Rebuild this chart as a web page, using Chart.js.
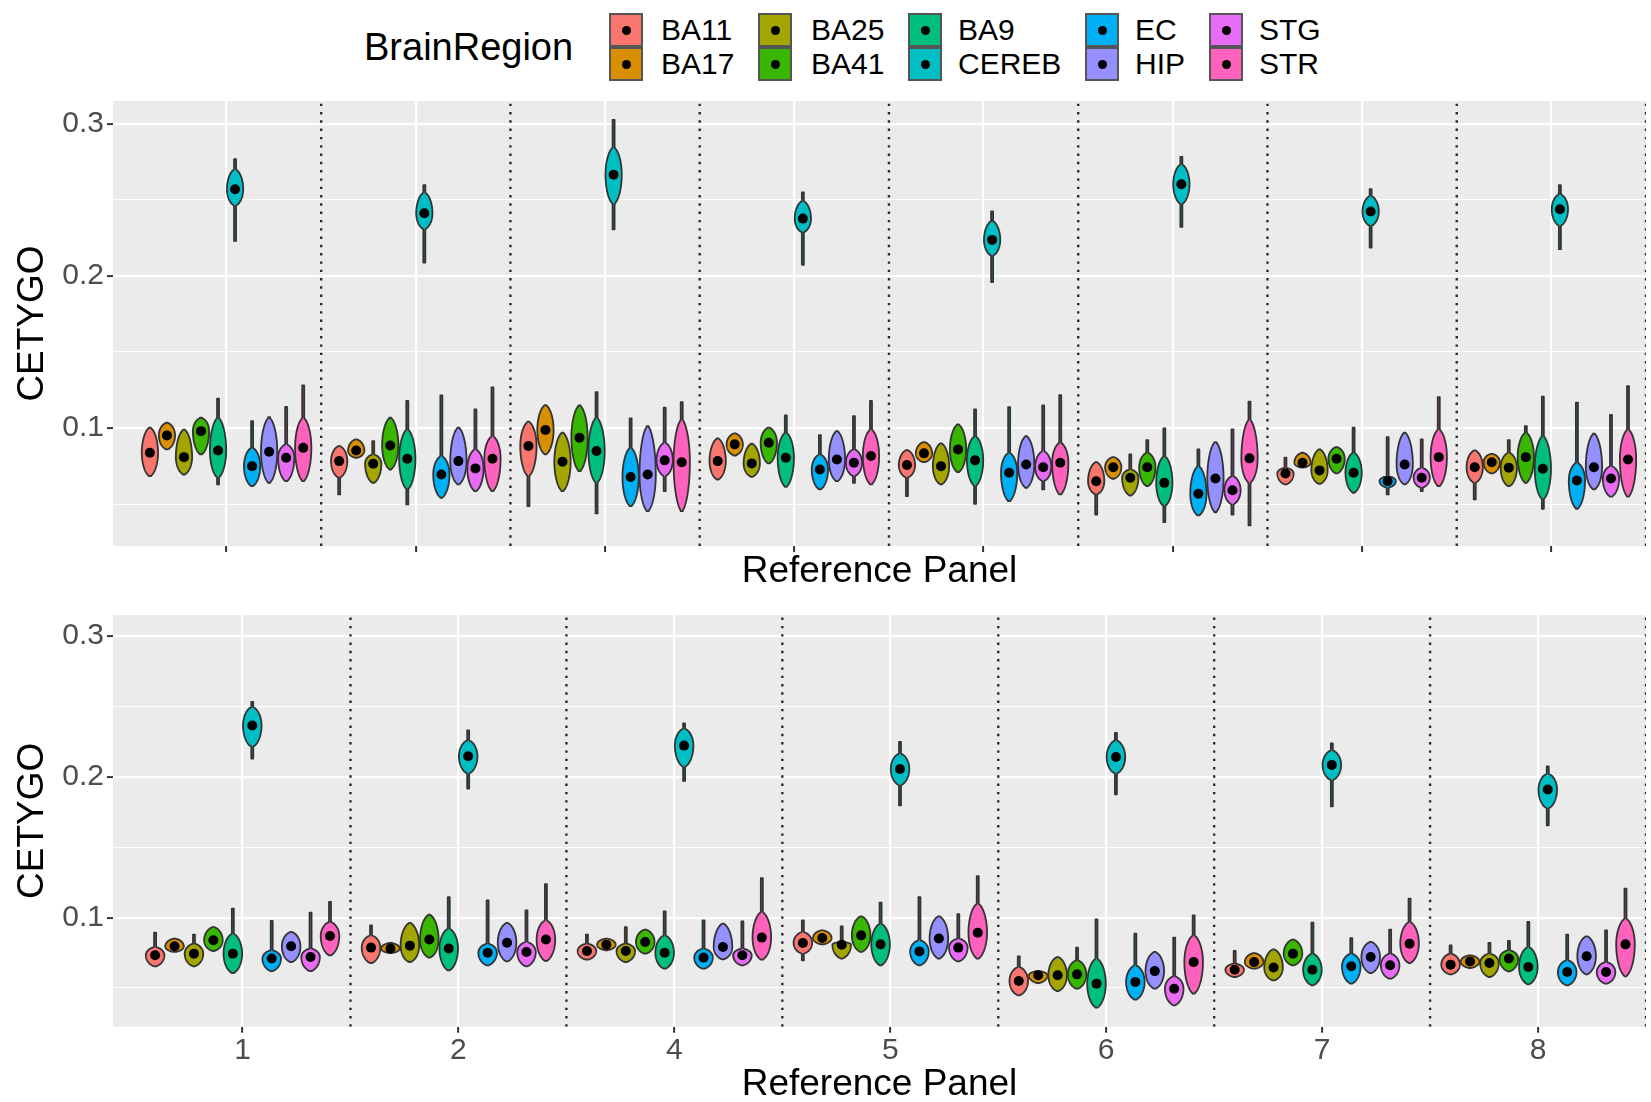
<!DOCTYPE html>
<html>
<head>
<meta charset="utf-8">
<script src="https://cdn.jsdelivr.net/npm/chart.js@4.4.0/dist/chart.umd.min.js"></script>
<style>
  body { margin: 0; width: 1651px; height: 1102px; overflow: hidden; background: #fff;
         font-family: "Liberation Sans", Arial, sans-serif; position: relative; }
  canvas { position: absolute; left: 0; }
  #topChart { top: 90px; }
  #bottomChart { top: 590px; }
  .lg-title { position: absolute; left: 364px; top: 28px; font-size: 38px; line-height: 38px; color: #000; }
  .key { position: absolute; width: 34px; height: 34px; box-sizing: border-box; border: 2px solid #555; }
  .key::after { content: ''; position: absolute; left: 50%; top: 50%; width: 9px; height: 9px;
                margin: -4.5px 0 0 -4.5px; border-radius: 50%; background: #000; }
  .lab { position: absolute; font-size: 30px; line-height: 34px; color: #000; }
</style>
</head>
<body>
<div class="lg-title">BrainRegion</div>
<div id="legend"></div>
<canvas id="topChart" width="1651" height="500"></canvas>
<canvas id="bottomChart" width="1651" height="513"></canvas>
<script>
const regions = ['BA11', 'BA17', 'BA25', 'BA41', 'BA9', 'CEREB', 'EC', 'HIP', 'STG', 'STR'];
const colors = ['#F8766D', '#D89000', '#A3A500', '#39B600', '#00BF7D', '#00BFC4', '#00B0F6', '#9590FF', '#E76BF3', '#FF62BC'];
const topLabels = ['', '', '', '', '', '', '', ''];
const bottomLabels = ['1', '2', '4', '5', '6', '7', '8'];

// top panel: rows = regions, columns = reference panels
const topLo = [
  [.0684, .0564, .0487, .0662, .0553, .0432, .0630, .0531],
  [.0860, .0805, .0827, .0820, .0776, .0667, .0740, .0702],
  [.0695, .0640, .0586, .0680, .0630, .0557, .0634, .0618],
  [.0827, .0728, .0717, .0768, .0710, .0618, .0702, .0640],
  [.0630, .0498, .0439, .0614, .0502, .0382, .0575, .0470],
  [.2230, .2088, .2307, .2073, .1960, .2322, .2187, .2176],
  [.0618, .0542, .0487, .0597, .0520, .0426, .0564, .0470],
  [.0640, .0630, .0454, .0651, .0608, .0447, .0630, .0597],
  [.0651, .0586, .0586, .0640, .0597, .0432, .0586, .0549],
  [.0651, .0586, .0454, .0630, .0564, .0360, .0618, .0549]
];
const topBodyLo = [
  [.0684, .0674, .0684, .0662, .0674, .0564, .0630, .0640],
  [.0860, .0805, .0827, .0820, .0776, .0667, .0740, .0702],
  [.0695, .0640, .0586, .0680, .0630, .0557, .0634, .0618],
  [.0827, .0728, .0717, .0768, .0710, .0618, .0702, .0640],
  [.0674, .0597, .0640, .0614, .0619, .0487, .0575, .0531],
  [.2461, .2307, .2472, .2286, .2132, .2472, .2329, .2329],
  [.0618, .0542, .0487, .0597, .0520, .0426, .0608, .0470],
  [.0640, .0630, .0454, .0651, .0608, .0447, .0630, .0597],
  [.0651, .0586, .0684, .0684, .0651, .0498, .0608, .0549],
  [.0651, .0586, .0454, .0630, .0564, .0640, .0618, .0549]
];
const topMed = [
  [.0838, .0783, .0882, .0783, .0757, .0651, .0702, .0743],
  [.0952, .0853, .0987, .0893, .0834, .0743, .0772, .0776],
  [.0809, .0766, .0779, .0768, .0750, .0674, .0722, .0740],
  [.0980, .0886, .0937, .0904, .0860, .0743, .0799, .0809],
  [.0853, .0799, .0849, .0805, .0788, .0640, .0707, .0733],
  [.2570, .2412, .2665, .2377, .2237, .2603, .2424, .2439],
  [.0750, .0695, .0678, .0728, .0707, .0568, .0651, .0656],
  [.0845, .0783, .0695, .0794, .0761, .0669, .0761, .0743],
  [.0805, .0735, .0788, .0772, .0743, .0592, .0674, .0669],
  [.0870, .0799, .0776, .0816, .0772, .0801, .0809, .0794]
];
const topBodyHi = [
  [.1003, .0882, .1042, .0932, .0855, .0776, .0739, .0853],
  [.1035, .0926, .1151, .0965, .0908, .0809, .0838, .0831],
  [.0990, .0827, .0970, .0897, .0900, .0728, .0860, .0838],
  [.1068, .1068, .1149, .1003, .1024, .0838, .0875, .0970],
  [.1068, .0991, .1068, .0970, .0947, .0816, .0838, .0947],
  [.2702, .2549, .2845, .2493, .2362, .2734, .2526, .2538],
  [.0871, .0816, .0871, .0827, .0838, .0750, .0684, .0772],
  [.1068, .1003, .1013, .0980, .0947, .0908, .0970, .0963],
  [.0893, .0860, .0904, .0860, .0849, .0684, .0739, .0750],
  [.1068, .0947, .1057, .0991, .0904, .1057, .0991, .0991]
];
const topHi = [
  [.1003, .0882, .1042, .0932, .0855, .0776, .0805, .0853],
  [.1035, .0926, .1151, .0965, .0908, .0809, .0838, .0831],
  [.0990, .0914, .0970, .0897, .0900, .0827, .0860, .0921],
  [.1068, .1068, .1149, .1003, .1024, .0921, .0875, .1013],
  [.1193, .1178, .1237, .1083, .1123, .0998, .1003, .1206],
  [.2768, .2597, .3026, .2549, .2424, .2783, .2570, .2597],
  [.1046, .1215, .1064, .0954, .1138, .0860, .0941, .1167],
  [.1072, .1003, .1013, .0980, .0947, .0908, .0970, .0963],
  [.1140, .1123, .1134, .1079, .1149, .0992, .0926, .1086],
  [.1280, .1268, .1171, .1178, .1217, .1174, .1204, .1276]
];

// bottom panel
const botLo = [
  [.0654, .0677, .0701, .0697, .0448, .0578, .0597],
  [.0756, .0748, .0768, .0810, .0535, .0637, .0642],
  [.0654, .0684, .0684, .0709, .0478, .0554, .0578],
  [.0763, .0716, .0744, .0756, .0495, .0661, .0618],
  [.0606, .0625, .0637, .0661, .0360, .0519, .0526],
  [.2130, .1917, .1971, .1798, .1876, .1791, .1656],
  [.0620, .0661, .0637, .0661, .0417, .0531, .0519],
  [.0684, .0689, .0704, .0709, .0495, .0606, .0597],
  [.0620, .0654, .0661, .0689, .0377, .0566, .0531],
  [.0732, .0692, .0701, .0709, .0460, .0677, .0583]
];
const botBodyLo = [
  [.0654, .0677, .0701, .0744, .0448, .0578, .0597],
  [.0756, .0748, .0768, .0810, .0535, .0637, .0642],
  [.0654, .0684, .0684, .0709, .0478, .0554, .0578],
  [.0763, .0716, .0744, .0756, .0495, .0661, .0618],
  [.0606, .0625, .0637, .0661, .0360, .0519, .0526],
  [.2213, .2023, .2070, .1940, .2023, .1976, .1775],
  [.0620, .0661, .0637, .0661, .0417, .0531, .0519],
  [.0684, .0689, .0704, .0709, .0495, .0606, .0597],
  [.0620, .0654, .0661, .0689, .0377, .0566, .0531],
  [.0732, .0692, .0701, .0709, .0460, .0677, .0583]
];
const botMed = [
  [.0732, .0787, .0763, .0820, .0550, .0630, .0666],
  [.0796, .0780, .0808, .0855, .0590, .0684, .0689],
  [.0744, .0801, .0763, .0808, .0590, .0645, .0677],
  [.0839, .0844, .0827, .0874, .0597, .0744, .0709],
  [.0744, .0780, .0751, .0810, .0531, .0630, .0649],
  [.2365, .2146, .2222, .2056, .2141, .2085, .1910],
  [.0709, .0751, .0716, .0760, .0543, .0654, .0613],
  [.0796, .0822, .0791, .0851, .0620, .0720, .0725],
  [.0720, .0756, .0732, .0787, .0495, .0661, .0613],
  [.0869, .0844, .0858, .0893, .0684, .0815, .0810]
];
const botBodyHi = [
  [.0791, .0874, .0815, .0898, .0649, .0673, .0744],
  [.0851, .0820, .0851, .0910, .0620, .0748, .0732],
  [.0815, .0962, .0815, .0827, .0720, .0775, .0744],
  [.0933, .1021, .0915, .1009, .0697, .0844, .0768],
  [.0886, .0922, .0874, .0957, .0709, .0744, .0791],
  [.2497, .2260, .2343, .2166, .2260, .2189, .2023],
  [.0768, .0815, .0780, .0839, .0661, .0744, .0697],
  [.0898, .0962, .0957, .1009, .0756, .0827, .0867],
  [.0780, .0827, .0780, .0851, .0583, .0744, .0684],
  [.0969, .0981, .1040, .1100, .0874, .0969, .0993]
];
const botHi = [
  [.0893, .0945, .0879, .0981, .0725, .0763, .0803],
  [.0851, .0820, .0851, .0910, .0620, .0748, .0732],
  [.0879, .0962, .0933, .0938, .0720, .0775, .0820],
  [.0933, .1021, .0915, .1009, .0787, .0844, .0834],
  [.1064, .1146, .1045, .1107, .0988, .0964, .0969],
  [.2532, .2331, .2379, .2248, .2312, .2237, .2075],
  [.0976, .1123, .0981, .1146, .0886, .0855, .0879],
  [.0898, .0962, .0957, .1009, .0756, .0827, .0867],
  [.1035, .1052, .0974, .1024, .0858, .0915, .0910],
  [.1111, .1237, .1281, .1294, .1016, .1135, .1206]
];

const yMin = 0.0225, yMax = 0.315;
const dodge = 0.09;       // width of one region slot in x units
const violinWidth = 0.086;

Chart.defaults.font.family = '"Liberation Sans", Arial, sans-serif';

// legend (two rows, five columns)
const keyX = [609, 758, 908, 1085, 1209];
const labX = [661, 811, 958, 1135, 1259];
const rowY = [13, 47];
const legendEl = document.getElementById('legend');
regions.forEach((r, i) => {
  const col = Math.floor(i / 2), row = i % 2;
  const k = document.createElement('div');
  k.className = 'key';
  k.style.left = keyX[col] + 'px';
  k.style.top = rowY[row] + 'px';
  k.style.background = colors[i];
  legendEl.appendChild(k);
  const l = document.createElement('div');
  l.className = 'lab';
  l.style.left = labX[col] + 'px';
  l.style.top = rowY[row] + 'px';
  l.textContent = r;
  legendEl.appendChild(l);
});

const slotX = (g, r) => g + 1 + (r - 4.5) * dodge;

function violinPlugin(stats) {
  return {
    id: 'violins',
    beforeDatasetsDraw(chart) {
      const { ctx, chartArea, scales: { x, y } } = chart;
      ctx.save();
      ctx.beginPath();
      ctx.rect(chartArea.left, chartArea.top, chartArea.width, chartArea.height);
      ctx.clip();
      stats.med.forEach((row, r) => row.forEach((m, g) => {
        const lo = stats.lo[r][g], hi = stats.hi[r][g];
        const bLo = stats.bLo[r][g], bHi = stats.bHi[r][g];
        const cx = x.getPixelForValue(slotX(g, r));
        const half = (x.getPixelForValue(violinWidth) - x.getPixelForValue(0)) / 2;
        const n = 80;
        const right = [];
        for (let k = 0; k <= n; k++) {
          const v = lo + (hi - lo) * k / n;
          let w = 0;
          if (v >= bLo && v <= bHi) {
            const t = v <= m ? (m - v) / Math.max(m - bLo, 1e-6) : (v - m) / Math.max(bHi - m, 1e-6);
            w = half * Math.pow(Math.max(0, 1 - t * t), 0.6);
          }
          right.push([Math.max(w, 1), y.getPixelForValue(v)]);
        }
        ctx.beginPath();
        right.forEach(([w, py], k) => k ? ctx.lineTo(cx + w, py) : ctx.moveTo(cx + w, py));
        for (let k = right.length - 1; k >= 0; k--) ctx.lineTo(cx - right[k][0], right[k][1]);
        ctx.closePath();
        ctx.fillStyle = colors[r];
        ctx.fill();
        ctx.lineWidth = 1.8;
        ctx.lineJoin = 'round';
        ctx.strokeStyle = '#333333';
        ctx.stroke();
      }));
      ctx.restore();
    }
  };
}

const bgPlugin = {
  id: 'panelBg',
  beforeDraw(chart) {
    const { ctx, chartArea: a } = chart;
    ctx.save();
    ctx.fillStyle = '#EBEBEB';
    ctx.fillRect(a.left, a.top, a.width, a.height);
    ctx.restore();
  }
};

const isMajor = v => Math.round(v * 100) % 10 === 0;

function makePanel(id, labels, stats, xMax, padTop, xHeight) {
  const datasets = [];
  for (let b = 1.5; b <= labels.length + 0.5; b += 1) {
    datasets.push({
      type: 'line',
      data: [{ x: b, y: yMin }, { x: b, y: yMax }],
      borderColor: '#2b2b2b',
      borderWidth: 2.4,
      borderDash: [2.4, 5.9],
      pointRadius: 0,
      fill: false
    });
  }
  stats.med.forEach((row, r) => {
    datasets.push({
      label: regions[r],
      data: row.map((v, g) => ({ x: slotX(g, r), y: v })),
      pointRadius: 5,
      pointBackgroundColor: '#000',
      pointBorderWidth: 0
    });
  });
  return new Chart(document.getElementById(id), {
    type: 'scatter',
    data: { datasets },
    plugins: [bgPlugin, violinPlugin(stats)],
    options: {
      responsive: false,
      animation: false,
      events: [],
      layout: { padding: { top: padTop, right: 0, left: 0, bottom: 0 } },
      plugins: { legend: { display: false }, tooltip: { enabled: false } },
      scales: {
        x: {
          type: 'linear',
          min: 0.4,
          max: xMax,
          afterFit: s => { s.height = xHeight; s.paddingLeft = 0; s.paddingRight = 0; },
          border: { display: false },
          grid: { color: '#FFFFFF', lineWidth: 2.2, tickColor: '#333333', tickWidth: 2, tickLength: 6 },
          ticks: {
            stepSize: 1,
            includeBounds: false,
            autoSkip: false,
            maxRotation: 0,
            padding: 0,
            color: '#4D4D4D',
            font: { size: 30 },
            callback: v => labels[Math.round(v) - 1] ?? ''
          },
          title: { display: true, text: 'Reference Panel', color: '#000', font: { size: 37, lineHeight: 1 }, padding: { top: 0, bottom: 0 } }
        },
        y: {
          min: yMin,
          max: yMax,
          afterFit: s => { s.width = 113; s.paddingTop = 0; s.paddingBottom = 0; },
          border: { display: false },
          grid: {
            color: '#FFFFFF',
            lineWidth: c => isMajor(c.tick.value) ? 2.2 : 1.1,
            tickColor: c => isMajor(c.tick.value) ? '#333333' : 'rgba(0,0,0,0)',
            tickWidth: 2,
            tickLength: 6
          },
          ticks: {
            stepSize: 0.05,
            includeBounds: false,
            padding: 3,
            color: '#4D4D4D',
            font: { size: 30 },
            callback: v => isMajor(v) ? (Math.round(v * 10) / 10).toFixed(1) : ''
          },
          title: { display: true, text: 'CETYGO', color: '#000', font: { size: 37, lineHeight: 1 }, padding: { top: 14, bottom: 0 } }
        }
      }
    }
  });
}

makePanel('topChart', topLabels,
  { lo: topLo, bLo: topBodyLo, med: topMed, bHi: topBodyHi, hi: topHi }, 8.5, 11, 44);
makePanel('bottomChart', bottomLabels,
  { lo: botLo, bLo: botBodyLo, med: botMed, bHi: botBodyHi, hi: botHi }, 7.5, 25, 76.3);
</script>
</body>
</html>
